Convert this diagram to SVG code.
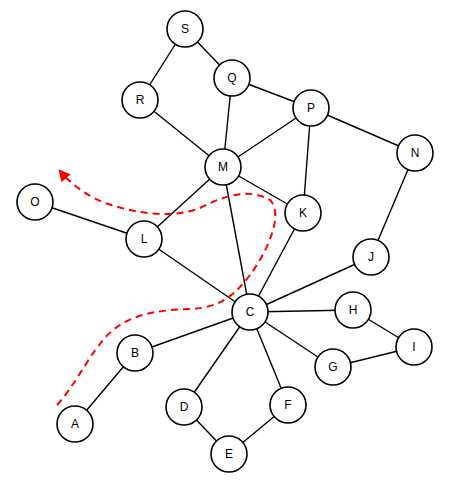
<svg xmlns="http://www.w3.org/2000/svg" width="468" height="487" viewBox="0 0 468 487">
<style>
.n circle{fill:#fff;stroke:#000;stroke-width:1.6}
.n text{font-family:"Liberation Sans",Arial,sans-serif;font-size:12px;text-anchor:middle;dominant-baseline:central;fill:#000}
.e line{stroke:#000;stroke-width:1.4}
.r{fill:none;stroke:#f00;stroke-width:2;stroke-dasharray:7,5}
</style>
<defs>
<marker id="ah" viewBox="0 0 10 10" refX="8" refY="5" markerWidth="6" markerHeight="6" orient="auto" markerUnits="strokeWidth">
<path d="M0,0 L10,5 L0,10 z" fill="#f00"/>
</marker>
</defs>
<rect width="468" height="487" fill="#fff"/>
<g id="connectors" class="e">
<line x1="185" y1="29" x2="140" y2="100"/>
<line x1="185" y1="29" x2="232" y2="78"/>
<line x1="232" y1="78" x2="311" y2="108"/>
<line x1="232" y1="78" x2="223" y2="167"/>
<line x1="140" y1="100" x2="223" y2="167"/>
<line x1="311" y1="108" x2="223" y2="167"/>
<line x1="311" y1="108" x2="303" y2="213"/>
<line x1="311" y1="108" x2="415" y2="153"/>
<line x1="223" y1="167" x2="303" y2="213"/>
<line x1="223" y1="167" x2="144" y2="239"/>
<line x1="223" y1="167" x2="250" y2="312"/>
<line x1="35" y1="202" x2="144" y2="239"/>
<line x1="144" y1="239" x2="250" y2="312"/>
<line x1="303" y1="213" x2="250" y2="312"/>
<line x1="415" y1="153" x2="371" y2="257"/>
<line x1="371" y1="257" x2="250" y2="312"/>
<line x1="250" y1="312" x2="353" y2="310"/>
<line x1="353" y1="310" x2="414" y2="347"/>
<line x1="414" y1="347" x2="333" y2="367"/>
<line x1="333" y1="367" x2="250" y2="312"/>
<line x1="250" y1="312" x2="288" y2="405"/>
<line x1="250" y1="312" x2="184" y2="407"/>
<line x1="250" y1="312" x2="135" y2="353"/>
<line x1="135" y1="353" x2="75" y2="424"/>
<line x1="184" y1="407" x2="229" y2="454"/>
<line x1="229" y1="454" x2="288" y2="405"/>
</g>
<g id="S" class="n"><circle cx="185" cy="29" r="18"/><text x="185" y="29">S</text></g>
<g id="Q" class="n"><circle cx="232" cy="78" r="18"/><text x="232" y="78">Q</text></g>
<g id="R" class="n"><circle cx="140" cy="100" r="18"/><text x="140" y="100">R</text></g>
<g id="P" class="n"><circle cx="311" cy="108" r="18"/><text x="311" y="108">P</text></g>
<g id="M" class="n"><circle cx="223" cy="167" r="18"/><text x="223" y="167">M</text></g>
<g id="N" class="n"><circle cx="415" cy="153" r="18"/><text x="415" y="153">N</text></g>
<g id="O" class="n"><circle cx="35" cy="202" r="18"/><text x="35" y="202">O</text></g>
<g id="K" class="n"><circle cx="303" cy="213" r="18"/><text x="303" y="213">K</text></g>
<g id="L" class="n"><circle cx="144" cy="239" r="18"/><text x="144" y="239">L</text></g>
<g id="J" class="n"><circle cx="371" cy="257" r="18"/><text x="371" y="257">J</text></g>
<g id="C" class="n"><circle cx="250" cy="312" r="18"/><text x="250" y="312">C</text></g>
<g id="H" class="n"><circle cx="353" cy="310" r="18"/><text x="353" y="310">H</text></g>
<g id="B" class="n"><circle cx="135" cy="353" r="18"/><text x="135" y="353">B</text></g>
<g id="I" class="n"><circle cx="414" cy="347" r="18"/><text x="414" y="347">I</text></g>
<g id="G" class="n"><circle cx="333" cy="367" r="18"/><text x="333" y="367">G</text></g>
<g id="D" class="n"><circle cx="184" cy="407" r="18"/><text x="184" y="407">D</text></g>
<g id="F" class="n"><circle cx="288" cy="405" r="18"/><text x="288" y="405">F</text></g>
<g id="A" class="n"><circle cx="75" cy="424" r="18"/><text x="75" y="424">A</text></g>
<g id="E" class="n"><circle cx="229" cy="454" r="18"/><text x="229" y="454">E</text></g>
<g id="path">
<path class="r" marker-end="url(#ah)" d="M57,405 C80,380 95,340 120,325 C140,312 165,310 190,309 C220,308 235,295 250,275 C265,255 285,215 270,200 C250,188 225,195 200,208 C175,218 140,215 105,203 C85,195 70,183 60,171"/>
</g>
</svg>
